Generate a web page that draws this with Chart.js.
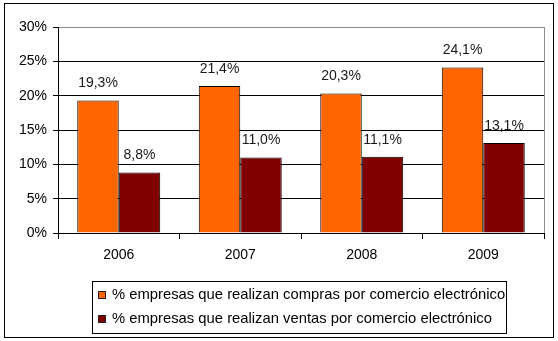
<!DOCTYPE html>
<html>
<head>
<meta charset="utf-8">
<script src="https://cdn.jsdelivr.net/npm/chart.js@4"></script>
<style>
  html, body { margin: 0; padding: 0; background: #fff; }
  canvas { display: block; }
</style>
</head>
<body>
<canvas id="grafico" width="558" height="341"></canvas>
<script>
const anios = ["2006", "2007", "2008", "2009"];
const compras = [19.3, 21.4, 20.3, 24.1];
const ventas = [8.8, 11.0, 11.1, 13.1];
const series = [
  "% empresas que realizan compras por comercio electrónico",
  "% empresas que realizan ventas por comercio electrónico",
];
const colores = ["#ff6600", "#800000"];
const ejeY = { min: 0, max: 30, paso: 5 };

const fuente = "'Liberation Sans', Arial, sans-serif";

const pct = (v) => v.toFixed(1).replace(".", ",") + "%";

// fondo blanco y marco exterior
const marco = {
  id: "marco",
  beforeDraw(chart) {
    const ctx = chart.ctx;
    ctx.save();
    ctx.fillStyle = "#fff";
    ctx.fillRect(0, 0, chart.width, chart.height);
    ctx.restore();
  },
  afterDraw(chart) {
    const ctx = chart.ctx;
    const a = chart.chartArea;
    ctx.save();
    ctx.strokeStyle = "#000";
    ctx.lineWidth = 1;
    ctx.strokeRect(4.5, 3.5, 549, 334);
    // borde derecho del area de trazado
    ctx.strokeStyle = "#8c8c8c";
    ctx.beginPath();
    ctx.moveTo(Math.round(a.right) + 0.5, a.top);
    ctx.lineTo(Math.round(a.right) + 0.5, a.bottom);
    ctx.stroke();
    ctx.restore();
  },
};

// etiquetas de valor encima de cada barra
const etiquetas = {
  id: "etiquetas",
  afterDatasetsDraw(chart) {
    const ctx = chart.ctx;
    ctx.save();
    ctx.font = "14px " + fuente;
    ctx.fillStyle = "#1a1a1a";
    ctx.textAlign = "center";
    ctx.textBaseline = "middle";
    chart.data.datasets.forEach((ds, i) => {
      chart.getDatasetMeta(i).data.forEach((bar, j) => {
        ctx.fillText(pct(ds.data[j]), bar.x, bar.y - 17);
      });
    });
    ctx.restore();
  },
};

// leyenda con recuadro debajo del grafico
const leyenda = {
  id: "leyenda",
  afterDraw(chart) {
    const ctx = chart.ctx;
    ctx.save();
    ctx.strokeStyle = "#000";
    ctx.lineWidth = 1;
    ctx.strokeRect(92.5, 281.5, 414, 52);
    ctx.font = "14.8px " + fuente;
    ctx.textBaseline = "middle";
    const filas = [294.5, 319];
    series.forEach((nombre, i) => {
      const y = Math.round(filas[i] - 4);
      ctx.fillStyle = colores[i];
      ctx.fillRect(98, y, 8, 8);
      ctx.strokeStyle = "#222";
      ctx.strokeRect(98.5, y + 0.5, 7, 7);
      ctx.fillStyle = "#000";
      ctx.fillText(nombre, 112, filas[i]);
    });
    ctx.restore();
  },
};

new Chart(document.getElementById("grafico"), {
  type: "bar",
  data: {
    labels: anios,
    datasets: [
      {
        label: series[0],
        data: compras,
        backgroundColor: colores[0],
        borderColor: "#000",
        borderWidth: 1,
        barPercentage: 1,
        categoryPercentage: 0.683,
      },
      {
        label: series[1],
        data: ventas,
        backgroundColor: colores[1],
        borderColor: "#000",
        borderWidth: 1,
        barPercentage: 1,
        categoryPercentage: 0.683,
      },
    ],
  },
  options: {
    responsive: false,
    animation: false,
    devicePixelRatio: 1,
    layout: { padding: { top: 27, right: 14, left: 0, bottom: 0 } },
    plugins: {
      legend: { display: false },
      tooltip: { enabled: false },
    },
    scales: {
      x: {
        offset: true,
        grid: {
          offset: true,
          drawOnChartArea: false,
          tickLength: 6,
          tickColor: "#000",
        },
        border: { color: "#000" },
        ticks: { font: { family: fuente, size: 14 }, color: "#000", padding: 8 },
        afterFit: (s) => { s.height = 108; },
      },
      y: {
        min: ejeY.min,
        max: ejeY.max,
        ticks: {
          stepSize: ejeY.paso,
          callback: (v) => v + "%",
          font: { family: fuente, size: 14 },
          color: "#000",
          padding: 6,
        },
        grid: {
          color: (c) => (c.tick && c.tick.value === ejeY.max ? "#8c8c8c" : "#000"),
          tickColor: "#000",
          tickLength: 5,
        },
        border: { color: "#000" },
        afterFit: (s) => { s.width = 58; },
      },
    },
  },
  plugins: [marco, etiquetas, leyenda],
});
</script>
</body>
</html>
